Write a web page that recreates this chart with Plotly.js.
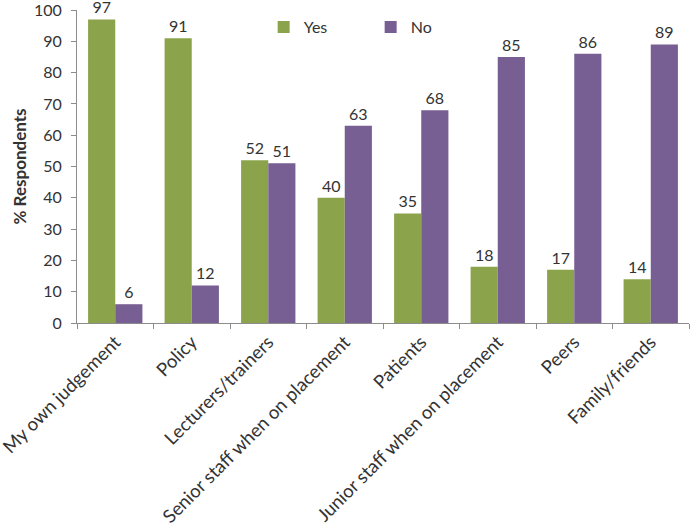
<!DOCTYPE html>
<html>
<head>
<meta charset="utf-8">
<script src="https://cdn.plot.ly/plotly-3.0.1.min.js"></script>
<style>html,body{margin:0;padding:0;background:#fff;}#chart{width:692px;height:532px;}</style>
</head>
<body>
<div id="chart"></div>
<script>
const categories = ["My own judgement", "Policy", "Lecturers/trainers", "Senior staff when on placement", "Patients", "Junior staff when on placement", "Peers", "Family/friends"];
const yesValues = [97, 91, 52, 40, 35, 18, 17, 14];
const noValues = [6, 12, 51, 63, 68, 85, 86, 89];
const yTicks = [0, 10, 20, 30, 40, 50, 60, 70, 80, 90, 100];

const FONT = "Lato, 'Open Sans', sans-serif";
const traces = [
  {type: "bar", name: "Yes", x: categories, y: yesValues, text: yesValues.map(String),
   textposition: "outside", cliponaxis: false, marker: {color: "#8BA44C"},
   textfont: {family: FONT, size: 16, color: "#333333"}},
  {type: "bar", name: "No", x: categories, y: noValues, text: noValues.map(String),
   textposition: "outside", cliponaxis: false, marker: {color: "#775E93"},
   textfont: {family: FONT, size: 16, color: "#333333"}}
];
const layout = {
  width: 692, height: 532,
  margin: {l: 77, r: 3, t: 10, b: 209},
  paper_bgcolor: "#ffffff", plot_bgcolor: "#ffffff",
  font: {family: FONT, size: 16, color: "#333333"},
  barmode: "group", bargap: 0.29, bargroupgap: 0,
  showlegend: true,
  legend: {orientation: "h", x: 0.305, xanchor: "left", y: 1.0, yanchor: "top",
           font: {family: FONT, size: 16, color: "#333333"}, entrywidth: 62, bgcolor: "rgba(0,0,0,0)",
           itemwidth: 30},
  xaxis: {type: "category", tickangle: -45, showline: true, linecolor: "#8c8c8c", linewidth: 1,
          ticks: "outside", tickson: "boundaries", ticklen: 5, tickcolor: "#8c8c8c",
          tickfont: {family: FONT, size: 18.5, color: "#333333"}, showgrid: false, automargin: false},
  yaxis: {range: [0, 100], tickmode: "array", tickvals: yTicks, ticktext: yTicks.map(String), showline: true,
          linecolor: "#8c8c8c", linewidth: 1, ticks: "outside", ticklen: 5, tickcolor: "#8c8c8c",
          ticklabeloverflow: "allow", ticklabelstandoff: 6,
          showgrid: false, zeroline: false, tickfont: {family: FONT, size: 16, color: "#333333"},
          title: {text: "<b>% Respondents</b>", font: {family: FONT, size: 17, color: "#333333"}, standoff: 3},
          automargin: false}
};
Plotly.newPlot("chart", traces, layout, {displayModeBar: false, staticPlot: true});
</script>
</body>
</html>
